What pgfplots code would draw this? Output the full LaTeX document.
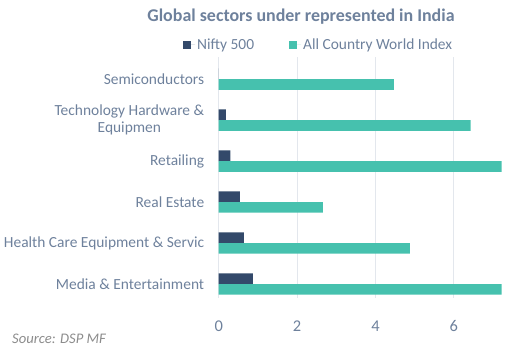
\documentclass[border=0pt]{standalone}
\usepackage{pgfplots}
\pgfplotsset{compat=1.18}
\usepackage{fontspec}
\setmainfont{Carlito}
\definecolor{navy}{HTML}{33496A}
\definecolor{acwi}{HTML}{46C1AE}
\definecolor{txt}{HTML}{6E819C}
\definecolor{gridc}{HTML}{E3E7ED}
\begin{document}
\begin{tikzpicture}
\useasboundingbox (0bp,0bp) rectangle (512bp,353bp);
\begin{axis}[
 at={(218.7bp,55bp)}, anchor=south west,
 scale only axis, width=283bp, height=241bp,
 xbar, bar width=0.26,
 xmin=0, xmax=7.22, ymin=-0.34, ymax=5.54,
 xtick={0,2,4,6}, ytick={0,1,2,3,4,5},
 yticklabels={{Media \& Entertainment},{Health Care Equipment \& Servic},{Real Estate},{Retailing},{Technology Hardware \&\\Equipmen},{Semiconductors}},
 xmajorgrids, grid style={gridc, line width=0.8bp},
 axis line style={draw=none},
 major tick length=0,
 /pgf/number format/assume math mode=true,
 tick label style={text=txt, font=\fontsize{15.5}{17}\selectfont},
 yticklabel style={align=center, xshift=-11bp},
 xticklabel style={yshift=-19bp, font=\fontsize{16.5}{18}\selectfont},
 legend columns=2,
 legend style={at={(-0.137,1.05)}, anchor=west, draw=none, fill=none,
   font=\fontsize{15.5}{17}\selectfont, text=txt,
   /tikz/every even column/.append style={column sep=33bp}},
]
\addplot[fill=navy, draw=none, bar shift=0.13,
  legend image code/.code={\fill[navy] (0bp,-4bp) rectangle (8bp,4bp); \path (8bp,0bp) -- (12bp,0bp);}]
  coordinates {(0.87,0) (0.64,1) (0.54,2) (0.30,3) (0.18,4) (0,5)};
\addplot[fill=acwi, draw=none, bar shift=-0.13,
  legend image code/.code={\fill[acwi] (0bp,-4bp) rectangle (8bp,4bp); \path (8bp,0bp) -- (12bp,0bp);}]
  coordinates {(7.6,0) (4.88,1) (2.66,2) (7.5,3) (6.43,4) (4.47,5)};
\legend{Nifty 500, All Country World Index}
\end{axis}
\node[font=\bfseries\fontsize{18}{21}\selectfont, text=txt] at (301bp,336bp) {Global sectors under represented in India};
\node[anchor=west, font=\itshape\fontsize{14.7}{17}\selectfont, text=black!45, inner sep=0pt] at (12bp,14bp) {Source: DSP MF};
\end{tikzpicture}
\end{document}
